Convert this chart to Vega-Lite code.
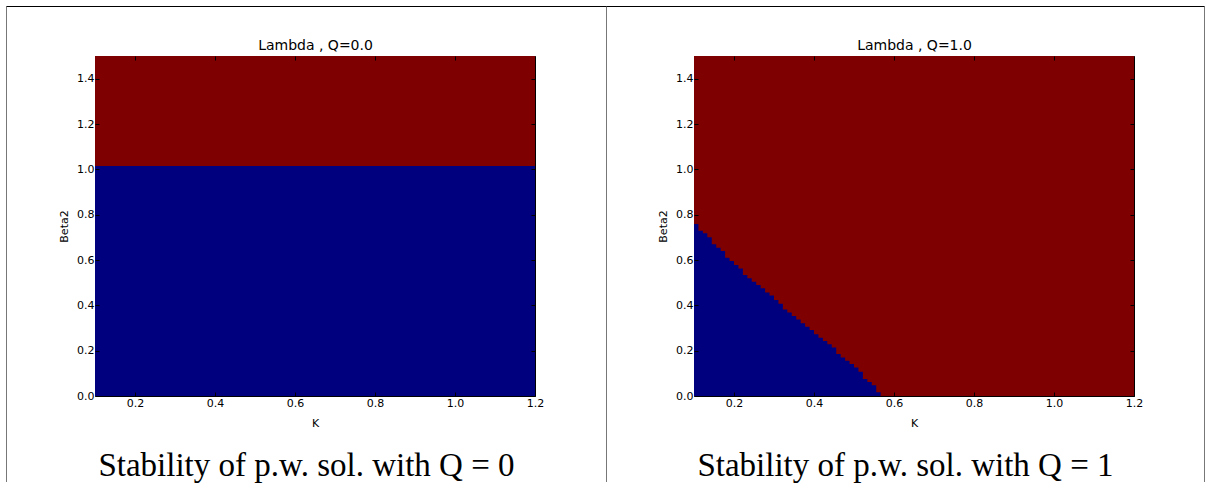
{
  "$schema": "https://vega.github.io/schema/vega-lite/v6.json",
  "background": "white",
  "padding": {"left": 5, "top": 5, "right": 0, "bottom": 0},
  "autosize": {"type": "pad"},
  "spacing": 159,
  "bounds": "flush",
  "datasets": {
    "background": [{"k0": 0.1, "k1": 1.2, "b0": 0, "b1": 1.5, "state": "unstable"}],
    "q0": [
      {"k": 0.1, "beta": 1.015, "state": "stable"},
      {"k": 1.2, "beta": 1.015, "state": "stable"}
    ],
    "q1": [
      {"k": 0.1, "beta": 0.759, "state": "stable"},
      {"k": 0.1111, "beta": 0.729, "state": "stable"},
      {"k": 0.1222, "beta": 0.718, "state": "stable"},
      {"k": 0.1333, "beta": 0.700, "state": "stable"},
      {"k": 0.1444, "beta": 0.669, "state": "stable"},
      {"k": 0.1556, "beta": 0.654, "state": "stable"},
      {"k": 0.1667, "beta": 0.640, "state": "stable"},
      {"k": 0.1778, "beta": 0.610, "state": "stable"},
      {"k": 0.1889, "beta": 0.596, "state": "stable"},
      {"k": 0.2, "beta": 0.578, "state": "stable"},
      {"k": 0.2111, "beta": 0.563, "state": "stable"},
      {"k": 0.2222, "beta": 0.534, "state": "stable"},
      {"k": 0.2333, "beta": 0.519, "state": "stable"},
      {"k": 0.2444, "beta": 0.504, "state": "stable"},
      {"k": 0.2556, "beta": 0.490, "state": "stable"},
      {"k": 0.2667, "beta": 0.475, "state": "stable"},
      {"k": 0.2778, "beta": 0.457, "state": "stable"},
      {"k": 0.2889, "beta": 0.443, "state": "stable"},
      {"k": 0.3, "beta": 0.424, "state": "stable"},
      {"k": 0.3111, "beta": 0.407, "state": "stable"},
      {"k": 0.3222, "beta": 0.382, "state": "stable"},
      {"k": 0.3333, "beta": 0.368, "state": "stable"},
      {"k": 0.3444, "beta": 0.353, "state": "stable"},
      {"k": 0.3556, "beta": 0.338, "state": "stable"},
      {"k": 0.3667, "beta": 0.321, "state": "stable"},
      {"k": 0.3778, "beta": 0.306, "state": "stable"},
      {"k": 0.3889, "beta": 0.291, "state": "stable"},
      {"k": 0.4, "beta": 0.272, "state": "stable"},
      {"k": 0.4111, "beta": 0.257, "state": "stable"},
      {"k": 0.4222, "beta": 0.243, "state": "stable"},
      {"k": 0.4333, "beta": 0.228, "state": "stable"},
      {"k": 0.4444, "beta": 0.214, "state": "stable"},
      {"k": 0.4556, "beta": 0.185, "state": "stable"},
      {"k": 0.4667, "beta": 0.170, "state": "stable"},
      {"k": 0.4778, "beta": 0.155, "state": "stable"},
      {"k": 0.4889, "beta": 0.141, "state": "stable"},
      {"k": 0.5, "beta": 0.126, "state": "stable"},
      {"k": 0.5111, "beta": 0.107, "state": "stable"},
      {"k": 0.5222, "beta": 0.075, "state": "stable"},
      {"k": 0.5333, "beta": 0.062, "state": "stable"},
      {"k": 0.5444, "beta": 0.047, "state": "stable"},
      {"k": 0.5556, "beta": 0.017, "state": "stable"},
      {"k": 0.5667, "beta": 0.017, "state": "stable"}
    ]
  },
  "config": {
    "view": {"stroke": "#000", "strokeWidth": 1},
    "axis": {
      "labelFont": "DejaVu Sans",
      "titleFont": "DejaVu Sans",
      "labelColor": "#000",
      "titleColor": "#000",
      "tickColor": "#000",
      "tickWidth": 1,
      "grid": false,
      "domain": false
    }
  },
  "hconcat": [
    {
      "width": 440,
      "height": 340,
      "resolve": {"axis": {"x": "independent", "y": "independent"}},
      "layer": [
        {
          "data": {"name": "background"},
          "mark": {"type": "rect"},
          "encoding": {
            "x": {"field": "k0", "type": "quantitative", "scale": {"domain": [0.1, 1.2], "nice": false, "zero": false},
                  "axis": {"orient": "bottom", "values": [0.2, 0.4, 0.6, 0.8, 1.0, 1.2], "format": ".1f", "title": "K", "tickSize": -4, "labelPadding": 5, "titlePadding": 9, "labelFlush": false, "labelFontSize": 11, "titleFontSize": 11, "titleFontWeight": "normal", "zindex": 1}},
            "x2": {"field": "k1"},
            "y": {"field": "b0", "type": "quantitative", "scale": {"domain": [0, 1.5], "nice": false, "zero": false},
                  "axis": {"orient": "left", "values": [0, 0.2, 0.4, 0.6, 0.8, 1.0, 1.2, 1.4], "format": ".1f", "title": "Beta2", "tickSize": -4, "labelPadding": 5, "titlePadding": 7, "labelFlush": false, "labelFontSize": 11, "titleFontSize": 11, "titleFontWeight": "normal", "zindex": 1}},
            "y2": {"field": "b1"},
            "color": {"field": "state", "type": "nominal", "scale": {"domain": ["stable", "unstable"], "range": ["#00007f", "#7f0000"]}, "legend": null}
          }
        },
        {
          "data": {"name": "q0"},
          "mark": {"type": "area", "interpolate": "step-after"},
          "encoding": {
            "x": {"field": "k", "type": "quantitative", "scale": {"domain": [0.1, 1.2], "nice": false, "zero": false},
                  "axis": {"orient": "top", "values": [0.2, 0.4, 0.6, 0.8, 1.0, 1.2], "labels": false, "tickSize": -4, "title": "Lambda , Q=0.0", "titleFontSize": 14, "titleFontWeight": "normal", "titlePadding": 3, "zindex": 1}},
            "y": {"field": "beta", "type": "quantitative", "scale": {"domain": [0, 1.5], "nice": false, "zero": false},
                  "axis": {"orient": "right", "values": [0, 0.2, 0.4, 0.6, 0.8, 1.0, 1.2, 1.4], "labels": false, "tickSize": -4, "title": null, "zindex": 1}},
            "y2": {"datum": 0},
            "color": {"field": "state", "type": "nominal", "scale": {"domain": ["stable", "unstable"], "range": ["#00007f", "#7f0000"]}, "legend": null}
          }
        },
        {
          "data": {"values": [{}]},
          "mark": {"type": "rule", "color": "#777", "strokeWidth": 1},
          "encoding": {
            "x": {"datum": -0.12125, "type": "quantitative", "scale": {"domain": [0.1, 1.2], "nice": false, "zero": false}, "axis": null},
            "y": {"datum": 1.71838, "type": "quantitative", "scale": {"domain": [0, 1.5], "nice": false, "zero": false}, "axis": null},
            "y2": {"datum": -0.37941}
          }
        },
        {
          "data": {"values": [{}]},
          "mark": {"type": "rule", "color": "#777", "strokeWidth": 1},
          "encoding": {
            "x": {"datum": 1.37875, "type": "quantitative", "scale": {"domain": [0.1, 1.2], "nice": false, "zero": false}, "axis": null},
            "y": {"datum": 1.71838, "type": "quantitative", "scale": {"domain": [0, 1.5], "nice": false, "zero": false}, "axis": null},
            "y2": {"datum": -0.37941}
          }
        },
        {
          "data": {"values": [{}]},
          "mark": {"type": "rule", "color": "#000", "strokeWidth": 1},
          "encoding": {
            "x": {"datum": -0.12125, "type": "quantitative", "scale": {"domain": [0.1, 1.2], "nice": false, "zero": false}, "axis": null},
            "x2": {"datum": 1.37875},
            "y": {"datum": 1.71838, "type": "quantitative", "scale": {"domain": [0, 1.5], "nice": false, "zero": false}, "axis": null}
          }
        },
        {
          "data": {"values": [{}]},
          "mark": {"type": "text", "text": "Stability of p.w. sol. with Q = 0", "font": "Liberation Serif", "fontSize": 33, "align": "center", "baseline": "alphabetic", "color": "#000"},
          "encoding": {
            "x": {"datum": 0.62875, "type": "quantitative", "scale": {"domain": [0.1, 1.2], "nice": false, "zero": false}, "axis": null},
            "y": {"datum": -0.35294, "type": "quantitative", "scale": {"domain": [0, 1.5], "nice": false, "zero": false}, "axis": null}
          }
        }
      ]
    },
    {
      "width": 440,
      "height": 340,
      "resolve": {"axis": {"x": "independent", "y": "independent"}},
      "layer": [
        {
          "data": {"name": "background"},
          "mark": {"type": "rect"},
          "encoding": {
            "x": {"field": "k0", "type": "quantitative", "scale": {"domain": [0.1, 1.2], "nice": false, "zero": false},
                  "axis": {"orient": "bottom", "values": [0.2, 0.4, 0.6, 0.8, 1.0, 1.2], "format": ".1f", "title": "K", "tickSize": -4, "labelPadding": 5, "titlePadding": 9, "labelFlush": false, "labelFontSize": 11, "titleFontSize": 11, "titleFontWeight": "normal", "zindex": 1}},
            "x2": {"field": "k1"},
            "y": {"field": "b0", "type": "quantitative", "scale": {"domain": [0, 1.5], "nice": false, "zero": false},
                  "axis": {"orient": "left", "values": [0, 0.2, 0.4, 0.6, 0.8, 1.0, 1.2, 1.4], "format": ".1f", "title": "Beta2", "tickSize": -4, "labelPadding": 5, "titlePadding": 7, "labelFlush": false, "labelFontSize": 11, "titleFontSize": 11, "titleFontWeight": "normal", "zindex": 1}},
            "y2": {"field": "b1"},
            "color": {"field": "state", "type": "nominal", "scale": {"domain": ["stable", "unstable"], "range": ["#00007f", "#7f0000"]}, "legend": null}
          }
        },
        {
          "data": {"name": "q1"},
          "mark": {"type": "area", "interpolate": "step-after"},
          "encoding": {
            "x": {"field": "k", "type": "quantitative", "scale": {"domain": [0.1, 1.2], "nice": false, "zero": false},
                  "axis": {"orient": "top", "values": [0.2, 0.4, 0.6, 0.8, 1.0, 1.2], "labels": false, "tickSize": -4, "title": "Lambda , Q=1.0", "titleFontSize": 14, "titleFontWeight": "normal", "titlePadding": 3, "zindex": 1}},
            "y": {"field": "beta", "type": "quantitative", "scale": {"domain": [0, 1.5], "nice": false, "zero": false},
                  "axis": {"orient": "right", "values": [0, 0.2, 0.4, 0.6, 0.8, 1.0, 1.2, 1.4], "labels": false, "tickSize": -4, "title": null, "zindex": 1}},
            "y2": {"datum": 0},
            "color": {"field": "state", "type": "nominal", "scale": {"domain": ["stable", "unstable"], "range": ["#00007f", "#7f0000"]}, "legend": null}
          }
        },
        {
          "data": {"values": [{}]},
          "mark": {"type": "rule", "color": "#777", "strokeWidth": 1},
          "encoding": {
            "x": {"datum": 1.37625, "type": "quantitative", "scale": {"domain": [0.1, 1.2], "nice": false, "zero": false}, "axis": null},
            "y": {"datum": 1.71838, "type": "quantitative", "scale": {"domain": [0, 1.5], "nice": false, "zero": false}, "axis": null},
            "y2": {"datum": -0.37941}
          }
        },
        {
          "data": {"values": [{}]},
          "mark": {"type": "rule", "color": "#000", "strokeWidth": 1},
          "encoding": {
            "x": {"datum": -0.11875, "type": "quantitative", "scale": {"domain": [0.1, 1.2], "nice": false, "zero": false}, "axis": null},
            "x2": {"datum": 1.37625},
            "y": {"datum": 1.71838, "type": "quantitative", "scale": {"domain": [0, 1.5], "nice": false, "zero": false}, "axis": null}
          }
        },
        {
          "data": {"values": [{}]},
          "mark": {"type": "text", "text": "Stability of p.w. sol. with Q = 1", "font": "Liberation Serif", "fontSize": 33, "align": "center", "baseline": "alphabetic", "color": "#000"},
          "encoding": {
            "x": {"datum": 0.62875, "type": "quantitative", "scale": {"domain": [0.1, 1.2], "nice": false, "zero": false}, "axis": null},
            "y": {"datum": -0.35294, "type": "quantitative", "scale": {"domain": [0, 1.5], "nice": false, "zero": false}, "axis": null}
          }
        }
      ]
    }
  ]
}
